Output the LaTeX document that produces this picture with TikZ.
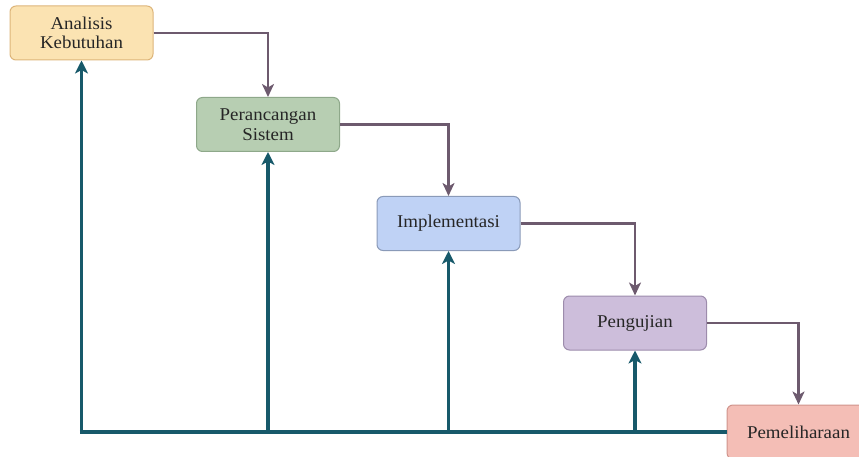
\documentclass[tikz,border=0pt]{standalone}
\usepackage{fontspec}
\setmainfont[FakeStretch=1.05]{Liberation Serif}
\usetikzlibrary{arrows.meta}
\definecolor{c1fill}{HTML}{FBE3B2}
\definecolor{c1draw}{HTML}{DDB57A}
\definecolor{c2fill}{HTML}{B7CEB2}
\definecolor{c2draw}{HTML}{8EA88A}
\definecolor{c3fill}{HTML}{BFD2F5}
\definecolor{c3draw}{HTML}{8A9AB8}
\definecolor{c4fill}{HTML}{CDBEDB}
\definecolor{c4draw}{HTML}{9D8CAC}
\definecolor{c5fill}{HTML}{F4BEB6}
\definecolor{c5draw}{HTML}{D0948C}
\definecolor{flowc}{HTML}{6D5A6E}
\definecolor{fbc}{HTML}{17596A}
\tikzset{
  stagebox/.style={line width=1pt, rounded corners=6pt, minimum width=143pt, minimum height=54pt, align=center, font=\fontsize{18}{19.5}\selectfont, inner sep=2pt, text=black!85},
  flowline/.style={flowc, line width=2.5pt, -{Stealth[length=13pt,width=12pt,inset=3.5pt]}},
  fbline/.style={fbc, line width=3.5pt},
  fbarrow/.style={fbc, line width=3.5pt, -{Stealth[length=13pt,width=13pt,inset=3.5pt]}}
}
\begin{document}
\begin{tikzpicture}[x=1pt,y=-1pt]
\useasboundingbox (0,0) rectangle (859,457);
\node[stagebox, fill=c1fill, draw=c1draw] (a) at (81.5,33) {Analisis\\Kebutuhan};
\node[stagebox, fill=c2fill, draw=c2draw] (b) at (268,124.5) {Perancangan\\Sistem};
\node[stagebox, fill=c3fill, draw=c3draw] (c) at (448.5,223.5) {Implementasi};
\node[stagebox, fill=c4fill, draw=c4draw] (d) at (635,323) {Pengujian};
\node[stagebox, fill=c5fill, draw=c5draw] (e) at (798.5,432) {Pemeliharaan};
\draw[flowline] (a.east) -| (b.north);
\draw[flowline] (b.east) -| (c.north);
\draw[flowline] (c.east) -| (d.north);
\draw[flowline] (d.east) -| (e.north);
\coordinate (j1) at (a.south |- e.west);
\coordinate (j2) at (b.south |- e.west);
\coordinate (j3) at (c.south |- e.west);
\coordinate (j4) at (d.south |- e.west);
\draw[fbline] ([xshift=-1.75pt]j1) -- (e.west);
\draw[fbarrow] ([yshift=1.75pt]j1) -- (a.south);
\draw[fbarrow] (j2) -- (b.south);
\draw[fbarrow] (j3) -- (c.south);
\draw[fbarrow] (j4) -- (d.south);
\end{tikzpicture}
\end{document}
